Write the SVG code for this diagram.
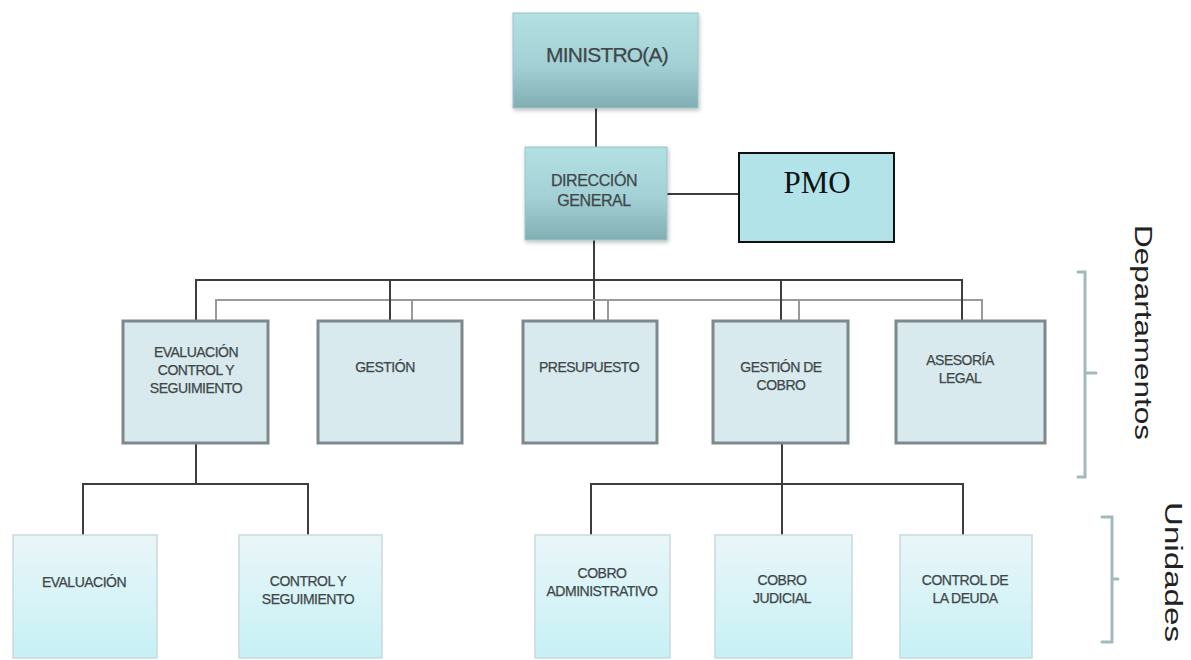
<svg xmlns="http://www.w3.org/2000/svg" width="1191" height="660" viewBox="0 0 1191 660">
<defs>
<linearGradient id="gTop" x1="0" y1="0" x2="0" y2="1">
<stop offset="0" stop-color="#b3e0e3"/>
<stop offset="0.55" stop-color="#a2d0d4"/>
<stop offset="1" stop-color="#80aeb2"/>
</linearGradient>
<linearGradient id="gUnit" x1="0" y1="0" x2="0" y2="1">
<stop offset="0" stop-color="#eaf6f8"/>
<stop offset="1" stop-color="#c6f1f6"/>
</linearGradient>
<filter id="sh" x="-10%" y="-10%" width="125%" height="125%">
<feGaussianBlur in="SourceAlpha" stdDeviation="2"/>
<feOffset dx="1" dy="2" result="b"/>
<feComponentTransfer><feFuncA type="linear" slope="0.25"/></feComponentTransfer>
<feMerge><feMergeNode/><feMergeNode in="SourceGraphic"/></feMerge>
</filter>
</defs>
<style>
.top{fill:url(#gTop);stroke:#9cc4c7;stroke-width:1;filter:url(#sh)}
.dept{fill:#d8eaed;stroke:#7d898b;stroke-width:3}
.unit{fill:url(#gUnit);stroke:#c9dadd;stroke-width:1.5}
.pmo{fill:#b2e3e8;stroke:#111;stroke-width:2}
.t{font-family:"Liberation Sans",Arial,sans-serif;fill:#3f4749;stroke:#3f4749;stroke-width:0.25;text-anchor:middle}
.tb{font-size:21px;letter-spacing:-0.8px}
.tm{font-size:16px;letter-spacing:-0.4px}
.ts{font-size:14px;letter-spacing:-0.5px}
.dark{stroke:#3d3d3d;stroke-width:2;fill:none}
.light{stroke:#9a9a9a;stroke-width:2;fill:none}
.br{stroke:#a3babd;stroke-width:3;fill:none;stroke-linecap:round}
.side{font-family:"Liberation Sans",Arial,sans-serif;font-size:23px;fill:#222}
</style>

<g id="connectors">
<line class="dark" x1="596" y1="108" x2="596" y2="147"/>
<line class="dark" x1="667" y1="194" x2="739" y2="194"/>
<line class="dark" x1="594" y1="240" x2="594" y2="321"/>
<polyline class="light" points="216,321 216,300 982,300 982,321"/>
<line class="light" x1="412" y1="300" x2="412" y2="321"/>
<line class="light" x1="608" y1="300" x2="608" y2="321"/>
<line class="light" x1="799" y1="300" x2="799" y2="321"/>
<polyline class="dark" points="196,321 196,280 962,280 962,321"/>
<line class="dark" x1="390" y1="280" x2="390" y2="321"/>
<line class="dark" x1="781" y1="280" x2="781" y2="321"/>
<line class="dark" x1="196" y1="443" x2="196" y2="484"/>
<polyline class="dark" points="83,535 83,484 308,484 308,535"/>
<line class="dark" x1="782" y1="443" x2="782" y2="535"/>
<polyline class="dark" points="591,535 591,484 963,484 963,535"/>
</g>

<g id="ministro">
<rect class="top" x="513" y="13" width="185" height="95"/>
<text class="t tb" x="607" y="62">MINISTRO(A)</text>
</g>
<g id="direccion">
<rect class="top" x="525" y="147" width="142" height="93"/>
<text class="t tm" x="594" y="186">DIRECCIÓN</text>
<text class="t tm" x="594" y="206">GENERAL</text>
</g>
<g id="pmo">
<rect class="pmo" x="739" y="153" width="155" height="89"/>
<text x="817" y="193" text-anchor="middle" style="font-family:'Liberation Serif','Times New Roman',serif;font-size:31px;fill:#111">PMO</text>
</g>

<g id="dept-evaluacion">
<rect class="dept" x="123" y="321" width="145" height="122"/>
<text class="t ts" x="196" y="357">EVALUACIÓN</text>
<text class="t ts" x="196" y="375">CONTROL Y</text>
<text class="t ts" x="196" y="393">SEGUIMIENTO</text>
</g>
<g id="dept-gestion">
<rect class="dept" x="318" y="321" width="144" height="122"/>
<text class="t ts" x="385" y="372">GESTIÓN</text>
</g>
<g id="dept-presupuesto">
<rect class="dept" x="523" y="321" width="134" height="122"/>
<text class="t ts" x="589" y="372">PRESUPUESTO</text>
</g>
<g id="dept-gestion-cobro">
<rect class="dept" x="713" y="321" width="135" height="122"/>
<text class="t ts" x="781" y="372">GESTIÓN DE</text>
<text class="t ts" x="781" y="390">COBRO</text>
</g>
<g id="dept-asesoria">
<rect class="dept" x="896" y="321" width="149" height="122"/>
<text class="t ts" x="960" y="365">ASESORÍA</text>
<text class="t ts" x="960" y="383">LEGAL</text>
</g>

<g id="unit-evaluacion">
<rect class="unit" x="13" y="535" width="144" height="123"/>
<text class="t ts" x="84" y="587">EVALUACIÓN</text>
</g>
<g id="unit-control">
<rect class="unit" x="239" y="535" width="143" height="123"/>
<text class="t ts" x="308" y="586">CONTROL Y</text>
<text class="t ts" x="308" y="604">SEGUIMIENTO</text>
</g>
<g id="unit-cobro-adm">
<rect class="unit" x="535" y="535" width="135" height="123"/>
<text class="t ts" x="602" y="578">COBRO</text>
<text class="t ts" x="602" y="596">ADMINISTRATIVO</text>
</g>
<g id="unit-cobro-jud">
<rect class="unit" x="715" y="535" width="137" height="123"/>
<text class="t ts" x="782" y="585">COBRO</text>
<text class="t ts" x="782" y="603">JUDICIAL</text>
</g>
<g id="unit-control-deuda">
<rect class="unit" x="900" y="535" width="132" height="123"/>
<text class="t ts" x="965" y="585">CONTROL DE</text>
<text class="t ts" x="965" y="603">LA DEUDA</text>
</g>

<g id="labels">
<path class="br" d="M1078,272 H1085 V477 H1078 M1085,373 H1096"/>
<path class="br" d="M1102,517 H1112 V642 H1102 M1112,579 H1118"/>
<text class="side" transform="translate(1135,225) rotate(90)" textLength="215" lengthAdjust="spacingAndGlyphs">Departamentos</text>
<text class="side" transform="translate(1165,502) rotate(90)" textLength="140" lengthAdjust="spacingAndGlyphs">Unidades</text>
</g>
</svg>
